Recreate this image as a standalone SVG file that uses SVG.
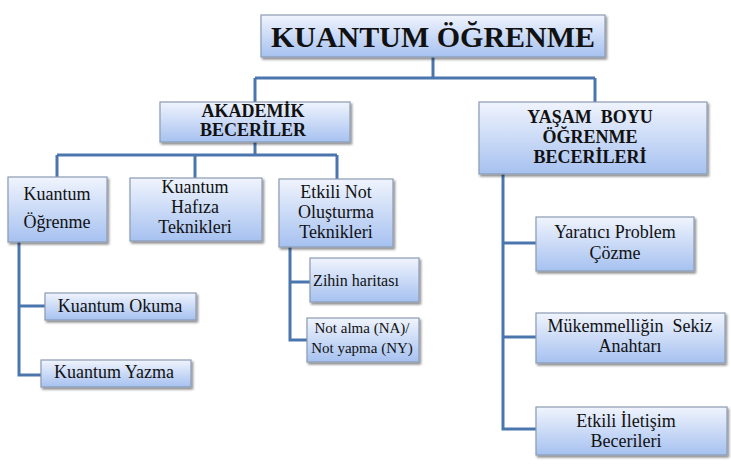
<svg xmlns="http://www.w3.org/2000/svg" width="731" height="467" viewBox="0 0 731 467">
<defs>
<linearGradient id="g" x1="0" y1="0" x2="0" y2="1">
<stop offset="0" stop-color="#f0f4fd"/>
<stop offset="1" stop-color="#a6c1f0"/>
</linearGradient>
<filter id="sh" x="-10%" y="-10%" width="130%" height="140%">
<feDropShadow dx="1.5" dy="2" stdDeviation="1.2" flood-color="#000" flood-opacity="0.45"/>
</filter>
</defs>
<rect width="731" height="467" fill="#fff"/>
<g id="connectors" fill="none" stroke="#4a76ad" stroke-width="3">
<path d="M433 57V78M255 78H595M255 78V102M595 78V102"/>
<path d="M255 142V155M57 155H337M57 155V177M195 155V178M337 155V179"/>
<path d="M19 242V375H41M19 306H45"/>
<path d="M290 247V340H307M290 282H310"/>
<path d="M503 174V429H536M503 243H536M503 337H536"/>
</g>
<g id="nodes" fill="url(#g)" stroke="#8a9bb3" stroke-width="1.2" filter="url(#sh)">
<rect id="b-root" x="261" y="15" width="344" height="42"/>
<rect id="b-akademik" x="160" y="102" width="190" height="40"/>
<rect id="b-yasam" x="479" y="102" width="228" height="72"/>
<rect id="b-kogrenme" x="8" y="177" width="99" height="65"/>
<rect id="b-hafiza" x="130" y="178" width="132" height="63"/>
<rect id="b-etkilinot" x="279" y="179" width="114" height="68"/>
<rect id="b-okuma" x="45" y="293" width="151" height="27"/>
<rect id="b-yazma" x="41" y="360" width="150" height="27"/>
<rect id="b-zihin" x="310" y="258" width="109" height="44"/>
<rect id="b-notalma" x="307" y="318" width="112" height="44"/>
<rect id="b-yaratici" x="536" y="217" width="158" height="54"/>
<rect id="b-mukemmel" x="536" y="313" width="189" height="50"/>
<rect id="b-iletisim" x="536" y="407" width="191" height="48"/>
</g>
<g id="labels" fill="#111" text-anchor="middle" font-family="Liberation Serif, Times New Roman, serif">
<g id="n-root">
<text font-weight="bold" x="433" y="47" font-size="30">KUANTUM ÖĞRENME</text></g>
<g id="n-akademik">
<text font-weight="bold" x="253" y="117" font-size="18">AKADEMİK</text>
<text font-weight="bold" x="253" y="136" font-size="18">BECERİLER</text></g>
<g id="n-yasam">
<text font-weight="bold" x="590" y="123" font-size="18">YAŞAM&#160; BOYU</text>
<text font-weight="bold" x="590" y="143" font-size="18">ÖĞRENME</text>
<text font-weight="bold" x="590" y="163" font-size="18">BECERİLERİ</text></g>
<g id="n-kogrenme">
<text x="57" y="200" font-size="18">Kuantum</text>
<text x="57" y="228" font-size="18">Öğrenme</text></g>
<g id="n-hafiza">
<text x="195" y="193" font-size="18">Kuantum</text>
<text x="195" y="213" font-size="18">Hafıza</text>
<text x="195" y="233" font-size="18">Teknikleri</text></g>
<g id="n-etkilinot">
<text x="336" y="198" font-size="18">Etkili Not</text>
<text x="336" y="218" font-size="18">Oluşturma</text>
<text x="336" y="238" font-size="18">Teknikleri</text></g>
<g id="n-okuma">
<text x="120" y="312" font-size="18">Kuantum Okuma</text></g>
<g id="n-yazma">
<text x="114" y="378" font-size="18">Kuantum Yazma</text></g>
<g id="n-zihin">
<text x="356" y="286" font-size="16">Zihin haritası</text></g>
<g id="n-notalma">
<text x="362" y="333" font-size="15">Not alma (NA)/</text>
<text x="362" y="353" font-size="15">Not yapma (NY)</text></g>
<g id="n-yaratici">
<text x="615" y="238" font-size="18">Yaratıcı Problem</text>
<text x="615" y="259" font-size="18">Çözme</text></g>
<g id="n-mukemmel">
<text x="630" y="332" font-size="18">Mükemmelliğin&#160; Sekiz</text>
<text x="630" y="352" font-size="18">Anahtarı</text></g>
<g id="n-iletisim">
<text x="626" y="427" font-size="18">Etkili İletişim</text>
<text x="626" y="447" font-size="18">Becerileri</text></g>
</g>
</svg>
